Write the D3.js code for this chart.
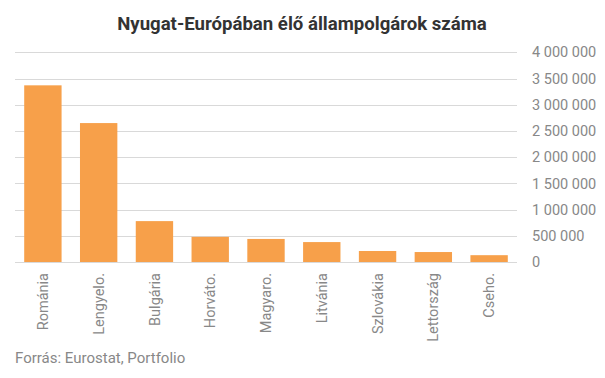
<!DOCTYPE html>
<html><head><meta charset="utf-8">
<script src="https://cdn.jsdelivr.net/npm/d3@7"></script>
<style>body{margin:0;background:#fff;} svg{display:block;font-family:Roboto,sans-serif;}</style>
</head><body>
<script>
const categories = ["Románia","Lengyelo.","Bulgária","Horváto.","Magyaro.","Litvánia","Szlovákia","Lettország","Cseho."];
const values = [3370000,2650000,780000,480000,440000,380000,210000,190000,130000];
const yTicks = [0,500000,1000000,1500000,2000000,2500000,3000000,3500000,4000000];
const title = "Nyugat-Európában élő állampolgárok száma";
const source = "Forrás: Eurostat, Portfolio";

const W=605,H=378;
const svg=d3.select("body").append("svg").attr("width",W).attr("height",H);
const x=d3.scaleBand().domain(categories).range([15,517]).paddingInner(0.33).paddingOuter(0.165);
const y=d3.scaleLinear().domain([0,4000000]).range([262,52.3]);

const fmt=v=>d3.format(",")(v).replace(/,/g," ");

svg.append("g").selectAll("line").data(yTicks).join("line")
 .attr("x1",15).attr("x2",517).attr("y1",d=>Math.round(y(d))+0.5).attr("y2",d=>Math.round(y(d))+0.5)
 .attr("stroke","#d9d9d9").attr("stroke-width",1);

svg.append("g").selectAll("rect").data(values).join("rect")
 .attr("x",(d,i)=>x(categories[i])).attr("width",x.bandwidth())
 .attr("y",d=>y(d)).attr("height",d=>y(0)-y(d)).attr("fill","#f7a04a");

const yAxis=d3.axisRight(y).tickValues(yTicks).tickFormat(fmt).tickSize(0).tickPadding(0);
const ga=svg.append("g").attr("transform","translate(532,0)").call(yAxis);
ga.select(".domain").remove();
ga.selectAll("text").attr("fill","#888").style("font-size","14.5px").style("font-family","Roboto");

const xAxis=d3.axisBottom(x).tickSize(0).tickPadding(0);
const gx=svg.append("g").attr("transform","translate(0,273)").call(xAxis);
gx.select(".domain").remove();
gx.selectAll("text").attr("fill","#888").style("font-size","14.5px").style("font-family","Roboto")
 .attr("transform","rotate(-90)").attr("text-anchor","end").attr("x",0).attr("y",0).attr("dy","0.35em");

svg.append("text").attr("x",302).attr("y",30).attr("text-anchor","middle")
 .attr("fill","#333").style("font-size","18.6px").style("font-weight","700").text(title);
svg.append("text").attr("x",15).attr("y",362.5).attr("fill","#888").style("font-size","15px").text(source);
</script>
</body></html>
